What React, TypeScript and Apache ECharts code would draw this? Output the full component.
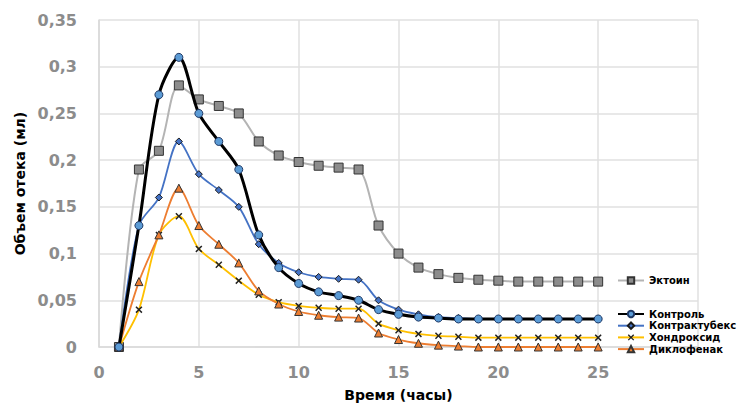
import React, { useEffect, useRef } from "react";
import * as echarts from "echarts";

const hours = [1, 2, 3, 4, 5, 6, 7, 8, 9, 10, 11, 12, 13, 14, 15, 16, 17, 18, 19, 20, 21, 22, 23, 24, 25];
const ectoin = [0, 0.19, 0.21, 0.28, 0.265, 0.258, 0.25, 0.22, 0.205, 0.198, 0.194, 0.192, 0.19, 0.13, 0.1, 0.085, 0.078, 0.074, 0.072, 0.071, 0.07, 0.07, 0.07, 0.07, 0.07];
const kontrol = [0, 0.13, 0.27, 0.31, 0.25, 0.22, 0.19, 0.12, 0.085, 0.068, 0.059, 0.055, 0.05, 0.04, 0.035, 0.032, 0.031, 0.03, 0.03, 0.03, 0.03, 0.03, 0.03, 0.03, 0.03];
const kontraktubeks = [0, 0.13, 0.16, 0.22, 0.185, 0.168, 0.15, 0.11, 0.09, 0.08, 0.075, 0.073, 0.072, 0.05, 0.04, 0.035, 0.032, 0.031, 0.03, 0.03, 0.03, 0.03, 0.03, 0.03, 0.03];
const hondroksid = [0, 0.04, 0.12, 0.14, 0.105, 0.088, 0.071, 0.056, 0.048, 0.044, 0.042, 0.041, 0.041, 0.025, 0.018, 0.014, 0.012, 0.011, 0.01, 0.01, 0.01, 0.01, 0.01, 0.01, 0.01];
const diklofenak = [0, 0.07, 0.12, 0.17, 0.13, 0.11, 0.09, 0.06, 0.046, 0.038, 0.034, 0.032, 0.031, 0.015, 0.008, 0.004, 0.002, 0.001, 0, 0, 0, 0, 0, 0, 0];

const seriesNames = ["Эктоин", "Контроль", "Контрактубекс", "Хондроксид", "Диклофенак"];

const xMark = "path://M0,1.5L1.5,0L5,3.5L8.5,0L10,1.5L6.5,5L10,8.5L8.5,10L5,6.5L1.5,10L0,8.5L3.5,5Z";

function pairs(v: number[]) {
  return hours.map((h, i) => [h, v[i]]);
}

export default function App() {
  const ref = useRef<HTMLDivElement>(null);
  useEffect(() => {
    if (!ref.current) return;
    const chart = echarts.init(ref.current, null, { renderer: "svg" });
    const font = "DejaVu Sans";
    const legendTops = [275, 308.5, 320.2, 331.9, 343.6];
    chart.setOption({
      animation: false,
      backgroundColor: "#ffffff",
      grid: { left: 99, right: 44, top: 20, bottom: 58, outerBoundsMode: "none" },
      legend: seriesNames.map((n, i) => ({
        data: [n],
        left: 617,
        top: legendTops[i],
        padding: 0,
        itemWidth: 26,
        itemHeight: 8,
        itemGap: 0,
        textStyle: { fontFamily: font, fontWeight: "bold", fontSize: 10, lineHeight: 11, color: "#000" },
      })),
      xAxis: {
        type: "value",
        min: 0,
        max: 30,
        interval: 5,
        name: "Время (часы)",
        nameLocation: "middle",
        nameGap: 41,
        nameTextStyle: { fontFamily: font, fontWeight: "bold", fontSize: 14, color: "#000" },
        axisLine: { show: true, lineStyle: { color: "#d9d9d9", width: 1.5 } },
        axisTick: { show: false },
        axisLabel: { fontFamily: font, fontWeight: "bold", fontSize: 16, color: "#8c8c8c", margin: 17, showMaxLabel: false },
        splitLine: { show: true, lineStyle: { color: "#e0e0e0", width: 1.5 } },
      },
      yAxis: {
        type: "value",
        min: 0,
        max: 0.35,
        interval: 0.05,
        name: "Объем отека (мл)",
        nameLocation: "middle",
        nameGap: 72,
        nameRotate: 90,
        nameTextStyle: { fontFamily: font, fontWeight: "bold", fontSize: 14, color: "#000" },
        axisLine: { show: true, lineStyle: { color: "#d9d9d9", width: 1.5 } },
        axisTick: { show: false },
        axisLabel: {
          fontFamily: font,
          fontWeight: "bold",
          fontSize: 16,
          color: "#8c8c8c",
          margin: 22,
          formatter: (v: number) => String(Math.round(v * 100) / 100).replace(".", ","),
        },
        splitLine: { show: true, lineStyle: { color: "#e0e0e0", width: 1.5 } },
      },
      series: [
        {
          name: seriesNames[0],
          type: "line",
          smooth: 0.3,
          data: pairs(ectoin),
          symbol: "rect",
          symbolSize: 9,
          lineStyle: { color: "#b4b4b4", width: 2 },
          itemStyle: { color: "#8c8c8c", borderColor: "#333", borderWidth: 1 },
          z: 2,
        },
        {
          name: seriesNames[1],
          type: "line",
          smooth: 0.3,
          data: pairs(kontrol),
          symbol: "circle",
          symbolSize: 8,
          lineStyle: { color: "#000", width: 3 },
          itemStyle: { color: "#5b9bd5", borderColor: "#1f3864", borderWidth: 1 },
          z: 5,
        },
        {
          name: seriesNames[2],
          type: "line",
          smooth: 0.3,
          data: pairs(kontraktubeks),
          symbol: "diamond",
          symbolSize: 7,
          lineStyle: { color: "#4472c4", width: 1.8 },
          itemStyle: { color: "#4472c4", borderColor: "#1a1a1a", borderWidth: 1 },
          z: 4,
        },
        {
          name: seriesNames[3],
          type: "line",
          smooth: 0.3,
          data: pairs(hondroksid),
          symbol: xMark,
          symbolSize: 7,
          lineStyle: { color: "#ffc000", width: 1.8 },
          itemStyle: { color: "#222", borderWidth: 0 },
          z: 3,
        },
        {
          name: seriesNames[4],
          type: "line",
          smooth: 0.3,
          data: pairs(diklofenak),
          symbol: "triangle",
          symbolSize: 8,
          lineStyle: { color: "#ed7d31", width: 1.8 },
          itemStyle: { color: "#ed7d31", borderColor: "#333", borderWidth: 1 },
          z: 3,
        },
      ],
    });
    return () => chart.dispose();
  }, []);
  return <div ref={ref} style={{ position: "fixed", left: 0, top: 0, width: 742, height: 405 }} />;
}
